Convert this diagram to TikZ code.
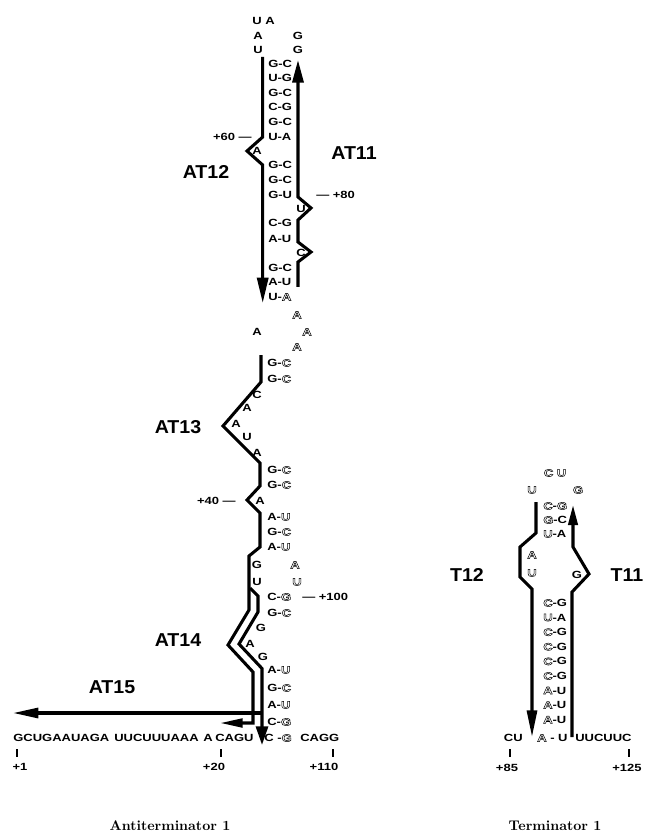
\documentclass[tikz,border=0pt]{standalone}
\usepackage{fontspec}
\newfontfamily\sq[FakeStretch=1.25]{Liberation Sans}
\newfontfamily\lbf[FakeStretch=1.05]{Liberation Sans}
\usetikzlibrary{arrows.meta}
\newcommand\hol[1]{\special{pdf:literal direct 1 Tr 0.38 w}#1\special{pdf:literal direct 0 Tr}}
\begin{document}
\begin{tikzpicture}[x=0.75pt,y=-0.75pt,
 bp/.style={font=\sq\bfseries\fontsize{7.8}{9}\selectfont, inner sep=0pt},
 lab/.style={font=\lbf\bfseries\fontsize{14}{16}\selectfont, inner sep=0pt},
 ttl/.style={font=\bfseries\fontsize{10.5}{12}\selectfont, inner sep=0pt},
 strand/.style={line width=2.3pt, line join=miter},
 tick/.style={line width=1.1pt}]
\useasboundingbox (0,0) rectangle (644,837);

% ---------------- Antiterminator: top hairpin ----------------
\node[bp] (l1) at (257,21) {U};
\node[bp] (l2) at (270,21) {A};
\node[bp] (l3) at (258,36) {A};
\node[bp] (l4) at (258,50) {U};
\node[bp] (l5) at (298,36) {G};
\node[bp] (l6) at (298,50) {G};
\foreach \y/\t [count=\i] in {64/G-C,78/U-G,93/G-C,107/C-G,122/G-C,137/U-A,165/G-C,180/G-C,195/G-U,223/C-G,239/A-U,268/G-C,282/A-U,297/U-\hol{A}}
  \node[bp,anchor=west] (tp\i) at (268,\y) {\t};
\node[bp] (b1) at (257,151) {A};
\node[bp] (b2) at (301,209) {U};
\node[bp] (b3) at (301,253) {C};
\node[bp,anchor=east] (n60) at (252,137) {+60 —};
\node[bp,anchor=west] (n80) at (316,195) {— +80};
\node[lab] (AT12) at (206,172) {AT12};
\node[lab] (AT11) at (354,153) {AT11};
\draw[strand,-{Triangle[length=19pt,width=8.3pt]}] (262.7,57) -- (262.7,137) -- (247,151) -- (262.7,165) -- (262.7,303);
\draw[strand,-{Triangle[length=17pt,width=8.3pt]}] (298,287) -- (298,262) -- (311,252) -- (298,242) -- (298,220) -- (311,208) -- (298,197) -- (298,60);

% ---------------- middle loop ----------------
\node[bp] (m1) at (297,315) {\hol{A}};
\node[bp] (m2) at (307,332) {\hol{A}};
\node[bp] (m3) at (297,347) {\hol{A}};
\node[bp] (m4) at (257,332) {A};
\foreach \y/\t [count=\i] in {363/G-\hol{C},379/G-\hol{C},470/G-\hol{C},485/G-\hol{C},517/A-\hol{U},532/G-\hol{C},547/A-\hol{U},597/C-\hol{G},613/G-\hol{C},670/A-\hol{U},688/G-\hol{C},705/A-\hol{U},722/C-\hol{G}}
  \node[bp,anchor=west] (mp\i) at (267,\y) {\t};
\node[bp] (s1) at (257,395) {C};
\node[bp] (s2) at (247,408) {A};
\node[bp] (s3) at (236,424) {A};
\node[bp] (s4) at (247,437) {U};
\node[bp] (s5) at (257,453) {A};
\node[bp] (s6) at (260,501) {A};
\node[bp] (s7) at (257,565) {G};
\node[bp] (s8) at (295,565) {\hol{A}};
\node[bp] (s9) at (257,582) {U};
\node[bp] (s10) at (297,582) {\hol{U}};
\node[bp] (s11) at (261,628) {G};
\node[bp] (s12) at (250,644) {A};
\node[bp] (s13) at (263,657) {G};
\node[bp,anchor=east] (n40) at (236,501) {+40 —};
\node[bp,anchor=west] (n100) at (302,597) {— +100};
\node[lab] (AT13) at (178,427) {AT13};
\node[lab] (AT14) at (178,640) {AT14};
\node[lab] (AT15) at (112,687) {AT15};

\draw[strand,-{Triangle[length=17pt,width=6.5pt]}] (261,355) -- (261,382) -- (223,426) -- (260,463) -- (260,486) -- (247,500) -- (260,513) -- (260,547) -- (249,556) -- (249,610) -- (228,645) -- (253,672) -- (253,723) -- (220,723);
\draw[strand,-{Triangle[length=14pt,width=9pt]}] (250,588) -- (258,596) -- (258,612) -- (239,644) -- (262,668.5) -- (262,745);
\draw[strand,-{Triangle[length=19pt,width=7.5pt]}] (262,713) -- (13,713);

% ---------------- bottom sequence ----------------
\node[bp,anchor=west] (q1) at (13,738) {GCUGAAUAGA};
\node[bp,anchor=west] (q2) at (114,738) {UUCUUUAAA};
\node[bp,anchor=west] (q3) at (203,738) {A};
\node[bp,anchor=west] (q4) at (215,738) {CAGU};
\node[bp,anchor=west] (q5) at (264,738) {C -\hol{G}};
\node[bp,anchor=west] (q6) at (300,738) {CAGG};
\draw[tick] (17,749) -- (17,757);
\draw[tick] (221,749) -- (221,757);
\draw[tick] (333,749) -- (333,757);
\node[bp] (k1) at (20,767) {+1};
\node[bp] (k20) at (214,767) {+20};
\node[bp] (k110) at (324,767) {+110};
\node[ttl] (title1) at (170,826) {Antiterminator 1};

% ---------------- Terminator ----------------
\node[bp] (t1) at (555,473) {\hol{C} \hol{U}};
\node[bp] (t2) at (532,490) {\hol{U}};
\node[bp] (t3) at (578,490) {\hol{G}};
\node[bp,anchor=west] (tq1) at (543,506) {\hol{C}-\hol{G}};
\node[bp,anchor=west] (tq2) at (543,520) {\hol{G}-C};
\node[bp,anchor=west] (tq3) at (543,534) {\hol{U}-A};
\node[bp] (t4) at (532,555) {\hol{A}};
\node[bp] (t5) at (532,573) {\hol{U}};
\node[bp] (t6) at (577,575) {G};
\foreach \y/\t [count=\i] in {603/\hol{C}-G,617.6/\hol{U}-A,632.2/\hol{C}-G,646.8/\hol{C}-G,661.4/\hol{C}-G,676/\hol{C}-G,690.6/\hol{A}-U,705.2/\hol{A}-U,719.8/\hol{A}-U}
  \node[bp,anchor=west] (tp\i) at (543,\y) {\t};
\node[bp,anchor=east] (tb1) at (523,738) {CU};
\node[bp,anchor=west] (tb2) at (537,738) {\hol{A} - U};
\node[bp,anchor=west] (tb3) at (575,738) {UUCUUC};
\draw[tick] (510,749) -- (510,757);
\draw[tick] (629,749) -- (629,757);
\node[bp] (k85) at (507,768) {+85};
\node[bp] (k125) at (627,768) {+125};
\node[lab] (T12) at (467,575) {T12};
\node[lab] (T11) at (627,575) {T11};
\node[ttl] (title2) at (555,826) {Terminator 1};

\draw[strand,-{Triangle[length=20pt,width=7.5pt]}] (536,502) -- (536,533) -- (520,547) -- (520,577) -- (532,589) -- (532,737);
\draw[strand,-{Triangle[length=15pt,width=7pt]}] (572,737) -- (572,592) -- (589,574) -- (573,547) -- (573,505);
\end{tikzpicture}
\end{document}
